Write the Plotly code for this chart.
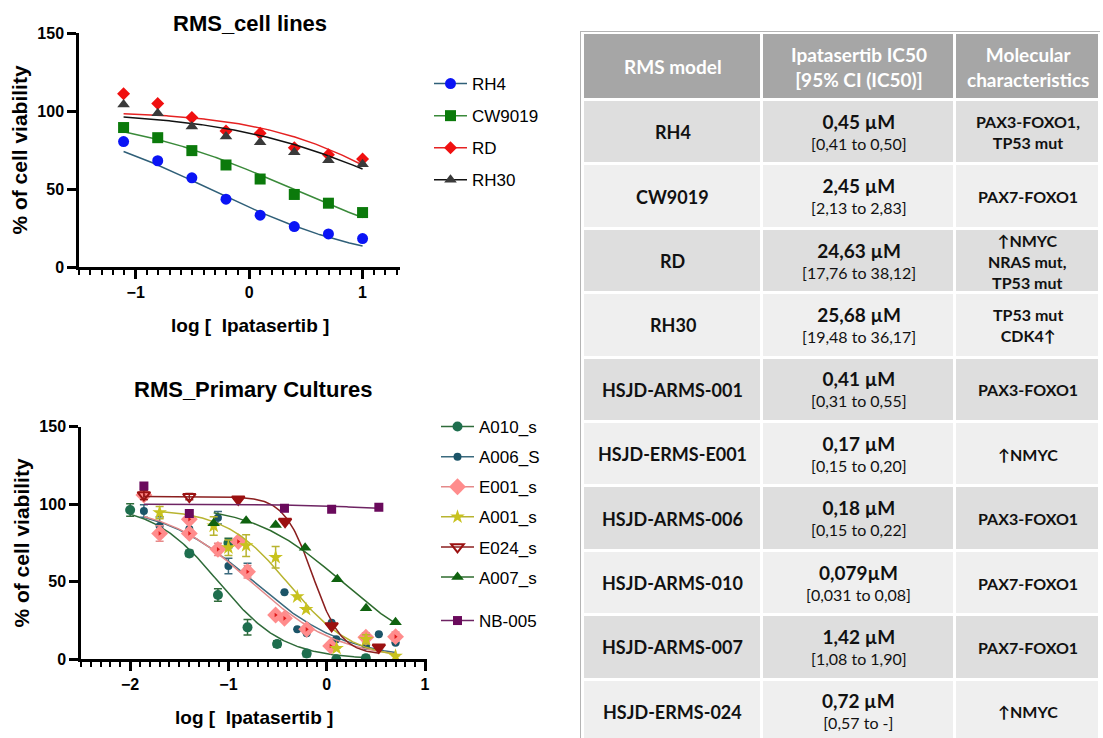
import numpy as np
import plotly.graph_objects as go

W, H = 1103, 738
FONT = "Liberation Sans"
TFONT = "Lato"

# ---------------- RMS cell lines ----------------
cell_log_conc = [-1.107, -0.806, -0.505, -0.204, 0.097, 0.398, 0.699, 1.0]
rh4_viab = [80.4, 68.1, 57.2, 43.5, 33.2, 25.9, 21.2, 18.2]
cw9019_viab = [89.4, 82.9, 74.6, 65.4, 56.4, 46.5, 40.9, 34.9]
rd_viab = [111.0, 104.8, 95.8, 87.2, 85.7, 76.5, 72.0, 69.2]
rh30_viab = [104.1, 98.6, 90.0, 83.6, 79.9, 73.5, 68.4, 65.8]

# ---------------- RMS primary cultures ----------------
a010_x = [-2.0, -1.398, -1.107, -1.0, -0.806, -0.505, -0.204, 0.097, 0.398]
a010_y = [96.3, 68.3, 41.5, 75.0, 20.6, 9.9, 3.7, 0.0, 0.6]
a010_err = [4, 2, 4, 3, 5, 2, 2, 1, 2]

a006_x = [-1.86, -1.70, -1.398, -1.107, -1.0, -0.806, -0.505, -0.43, -0.30, -0.204, 0.05, 0.097, 0.398, 0.53, 0.70]
a006_y = [95.6, 86.0, 84.0, 91.3, 60.2, 58.0, 28.0, 43.2, 19.3, 16.8, 23.6, 12.9, 8.6, 16.1, 10.7]
a006_err = [4, 6, 5, 4, 5, 4, 0, 0, 0, 0, 0, 0, 0, 0, 0]

e001_x = [-1.86, -1.70, -1.398, -1.398, -1.107, -0.90, -0.806, -0.52, -0.43, -0.204, 0.04, 0.398, 0.70]
e001_y = [106.0, 81.2, 81.2, 90.3, 70.9, 75.9, 56.5, 28.6, 26.4, 19.3, 8.6, 14.2, 14.6]
e001_err = [3, 5, 2, 2, 4, 2, 4, 0, 0, 0, 0, 3, 3]

a001_x = [-1.70, -1.15, -1.0, -0.82, -0.52, -0.30, -0.21, 0.10, 0.40, 0.70]
a001_y = [94.6, 86.0, 72.0, 73.3, 65.8, 40.4, 32.2, 7.1, 12.9, 2.1]
a001_err = [4, 6, 5, 7, 7, 0, 0, 0, 3, 0]

e024_x = [-1.86, -1.398, -0.90, -0.424, 0.05, 0.53]
e024_y = [106.0, 104.9, 103.2, 88.8, 21.5, 7.7]
e024_err = [3, 2, 0, 0, 0, 0]

a007_x = [-1.15, -0.82, -0.52, -0.22, 0.108, 0.40, 0.70]
a007_y = [87.7, 89.4, 86.6, 72.0, 51.6, 32.9, 23.9]

nb005_x = [-1.86, -1.398, -0.43, 0.05, 0.53]
nb005_y = [111.8, 94.1, 97.4, 96.7, 98.0]

# ---------------- IC50 table ----------------
models = ["RH4", "CW9019", "RD", "RH30", "HSJD-ARMS-001", "HSJD-ERMS-E001",
          "HSJD-ARMS-006", "HSJD-ARMS-010", "HSJD-ARMS-007", "HSJD-ERMS-024"]
ic50_um = [0.45, 2.45, 24.63, 25.68, 0.41, 0.17, 0.18, 0.079, 1.42, 0.72]
ic50_labels = ["0,45 µM", "2,45 µM", "24,63 µM", "25,68 µM", "0,41 µM", "0,17 µM",
               "0,18 µM", "0,079µM", "1,42 µM", "0,72 µM"]
ci_labels = ["[0,41 to 0,50]", "[2,13 to 2,83]", "[17,76 to 38,12]", "[19,48 to 36,17]",
             "[0,31 to 0,55]", "[0,15 to 0,20]", "[0,15 to 0,22]", "[0,031 to 0,08]",
             "[1,08 to 1,90]", "[0,57 to -]"]
molecular = [["PAX3-FOXO1,", "TP53 mut"], ["PAX7-FOXO1"], ["↑NMYC", "NRAS mut,", "TP53 mut"],
             ["TP53 mut", "CDK4↑"], ["PAX3-FOXO1"], ["↑NMYC"], ["PAX3-FOXO1"],
             ["PAX7-FOXO1"], ["PAX7-FOXO1"], ["↑NMYC"]]
headers = ["RMS model", "Ipatasertib IC50<br>[95% CI (IC50)]", "Molecular<br>characteristics"]

ic50_of = dict(zip(models, ic50_um))

# four-parameter logistic fits: top, bottom, hill slope, IC50 (µM, from the table)
fits = {
    "RH4": (100, 0, 0.60, ic50_of["RH4"]),
    "CW9019": (100, 0, 0.545, ic50_of["CW9019"]),
    "RD": (100, 0, 0.707, ic50_of["RD"]),
    "RH30": (100, 0, 0.556, ic50_of["RH30"]),
    "A010_s": (100, 0, 1.30, ic50_of["HSJD-ARMS-010"]),
    "A006_S": (100, 0, 0.93, ic50_of["HSJD-ARMS-006"]),
    "E001_s": (100, 0, 0.98, ic50_of["HSJD-ERMS-E001"]),
    "A001_s": (97, 0, 1.35, ic50_of["HSJD-ARMS-001"]),
    "E024_s": (105, 3, 3.0, ic50_of["HSJD-ERMS-024"]),
    "A007_s": (100, 0, 0.95, ic50_of["HSJD-ARMS-007"]),
    "NB-005": (100, 95, 1.0, 10 ** 0.5),
}


def fit_curve(name, xs):
    top, bottom, hill, ic50 = fits[name]
    x = np.linspace(min(xs), max(xs), 200)
    y = bottom + (top - bottom) / (1 + 10 ** ((x - np.log10(ic50)) * hill))
    return x, y


fig = go.Figure()

cell_series = [
    ("RH4", rh4_viab, "circle", "#0a14f5", "#2f5f78", 11),
    ("CW9019", cw9019_viab, "square", "#0b7a0b", "#3a8a3a", 11),
    ("RD", rd_viab, "diamond", "#f01010", "#e52222", 10),
    ("RH30", rh30_viab, "triangle-up", "#3a3a3a", "#111111", 11),
]
for name, ys, sym, mcol, lcol, size in cell_series:
    cx, cy = fit_curve(name, cell_log_conc)
    fig.add_trace(go.Scatter(x=cx, y=cy, mode="lines", line=dict(color=lcol, width=1.5),
                             xaxis="x", yaxis="y", showlegend=False, hoverinfo="skip"))
    fig.add_trace(go.Scatter(x=cell_log_conc, y=ys, mode="markers",
                             marker=dict(symbol=sym, color=mcol, size=size),
                             xaxis="x", yaxis="y", showlegend=False))
    fig.add_trace(go.Scatter(x=[None], y=[None], mode="lines+markers", name=name,
                             line=dict(color=lcol, width=1.5),
                             marker=dict(symbol=sym, color=mcol, size=size),
                             xaxis="x", yaxis="y", legend="legend", legendgroup=name))

primary_series = [
    ("A010_s", a010_x, a010_y, a010_err, "circle", "#1e6e4e", "#2f6b3a", 10),
    ("A006_S", a006_x, a006_y, a006_err, "circle", "#1b5468", "#3b6a7e", 8),
    ("E001_s", e001_x, e001_y, e001_err, "diamond", "#ff8c8c", "#e48a8a", 13),
    ("A001_s", a001_x, a001_y, a001_err, "star", "#c8c21e", "#b8b430", 11),
    ("E024_s", e024_x, e024_y, e024_err, "triangle-down", "#9b1111", "#8b1f1f", 11),
    ("A007_s", a007_x, a007_y, None, "triangle-up", "#0f620f", "#2e6b2e", 11),
]
for name, xs, ys, err, sym, mcol, lcol, size in primary_series:
    cx, cy = fit_curve(name, xs)
    fig.add_trace(go.Scatter(x=cx, y=cy, mode="lines", line=dict(color=lcol, width=1.5),
                             xaxis="x2", yaxis="y2", showlegend=False, hoverinfo="skip"))
    symbols = sym
    if name == "E024_s":
        symbols = ["triangle-down-open", "triangle-down-open"] + ["triangle-down"] * (len(xs) - 2)
    fig.add_trace(go.Scatter(
        x=xs, y=ys, mode="markers",
        marker=dict(symbol=symbols, color=mcol, size=size,
                    line=dict(color=mcol, width=2 if name == "E024_s" else 0)),
        error_y=dict(type="data", array=err, color=lcol, thickness=1.5, width=4,
                     visible=err is not None),
        xaxis="x2", yaxis="y2", showlegend=False))
    if name == "E001_s":
        fig.add_trace(go.Scatter(x=xs, y=ys, mode="markers",
                                 marker=dict(symbol="triangle-right", color="#e01818", size=4),
                                 xaxis="x2", yaxis="y2", showlegend=False, hoverinfo="skip"))
    fig.add_trace(go.Scatter(x=[None], y=[None], mode="lines+markers", name=name,
                             line=dict(color=lcol, width=1.5),
                             marker=dict(symbol="triangle-down-open" if name == "E024_s" else sym,
                                         color=mcol, size=size,
                                         line=dict(color=mcol, width=2 if name == "E024_s" else 0)),
                             xaxis="x2", yaxis="y2", legend="legend2", legendgroup=name))

cx, cy = fit_curve("NB-005", nb005_x)
fig.add_trace(go.Scatter(x=cx, y=cy, mode="lines", line=dict(color="#6e2463", width=1.5),
                         xaxis="x2", yaxis="y2", showlegend=False, hoverinfo="skip"))
fig.add_trace(go.Scatter(x=nb005_x, y=nb005_y, mode="markers",
                         marker=dict(symbol="square", color="#6a0a5c", size=9),
                         xaxis="x2", yaxis="y2", showlegend=False))
fig.add_trace(go.Scatter(x=[None], y=[None], mode="lines+markers", name="NB-005",
                         line=dict(color="#6e2463", width=1.5),
                         marker=dict(symbol="square", color="#6a0a5c", size=9),
                         xaxis="x2", yaxis="y2", legend="legend3"))

# ---------------- table drawn as a heatmap grid ----------------
col_widths = [179, 193, 145]
header_h, row_h = 67, 64.4
table_left, table_top = 583, 33
col_edges = list(np.cumsum([table_left] + col_widths))
row_edges = [table_top, table_top + header_h] + [table_top + header_h + row_h * (k + 1)
                                                 for k in range(len(models))]
shade = [[0] * 3] + [[1 if k % 2 == 0 else 2] * 3 for k in range(len(models))]
fig.add_trace(go.Heatmap(
    x=col_edges, y=row_edges, z=shade, xaxis="x3", yaxis="y3",
    colorscale=[[0, "#a6a6a6"], [0.5, "#dedede"], [1, "#efefef"]], zmin=0, zmax=2,
    showscale=False, xgap=3, ygap=3, hoverinfo="skip"))

col_centers = [(col_edges[i] + col_edges[i + 1]) / 2 for i in range(3)]
row_centers = [(row_edges[i] + row_edges[i + 1]) / 2 for i in range(len(row_edges) - 1)]

annotations = []
for ci_, text in enumerate(headers):
    annotations.append(dict(x=col_centers[ci_], y=row_centers[0], xref="x3", yref="y3",
                            text="<b>%s</b>" % text, showarrow=False,
                            xanchor="center", yanchor="middle",
                            font=dict(family=TFONT, size=19, color="white")))
for r, model in enumerate(models):
    yc = row_centers[r + 1]
    annotations.append(dict(x=col_centers[0], y=yc, xref="x3", yref="y3",
                            text="<b>%s</b>" % model, showarrow=False,
                            xanchor="center", yanchor="middle",
                            font=dict(family=TFONT, size=18, color="#111111")))
    annotations.append(dict(x=col_centers[1], y=yc - 1, xref="x3", yref="y3",
                            text="<b><span style='font-size:19px'>%s</span></b><br>%s"
                                 % (ic50_labels[r], ci_labels[r]),
                            showarrow=False, xanchor="center", yanchor="middle",
                            font=dict(family=TFONT, size=16, color="#111111")))
    annotations.append(dict(x=col_centers[2], y=yc, xref="x3", yref="y3",
                            text="<b>%s</b>" % "<br>".join(molecular[r]), showarrow=False,
                            xanchor="center", yanchor="middle",
                            font=dict(family=TFONT, size=16, color="#111111")))

# panel titles and x-axis titles
panel_text = [("<b>RMS_cell lines</b>", 250, 24, 22), ("<b>RMS_Primary Cultures</b>", 253, 389, 22),
              ("<b>log [  Ipatasertib ]</b>", 250, 325, 19),
              ("<b>log [  Ipatasertib ]</b>", 254, 717, 19)]
for text, px, py, fs in panel_text:
    annotations.append(dict(x=px / W, y=1 - py / H, xref="paper", yref="paper",
                            xanchor="center", yanchor="middle", text=text, showarrow=False,
                            font=dict(family=FONT, size=fs, color="black")))


def x_axis(domain, rng, anchor):
    return dict(domain=domain, range=rng, anchor=anchor, showline=True, linewidth=2.5,
                linecolor="black", ticks="outside", ticklen=9, tickwidth=2.5, tickcolor="black",
                dtick=1, tick0=0, showgrid=False, zeroline=False, automargin=False,
                minor=dict(dtick=0.1, tick0=0, ticks="outside", ticklen=5, tickwidth=2,
                           tickcolor="black", showgrid=False),
                tickfont=dict(family=FONT, size=16, color="black", weight="bold"))


def y_axis(domain, anchor):
    return dict(domain=domain, range=[0, 150], anchor=anchor, showline=True, linewidth=2.5,
                linecolor="black", ticks="outside", ticklen=9, tickwidth=2.5, tickcolor="black",
                dtick=50, showgrid=False, zeroline=False, automargin=False,
                tickfont=dict(family=FONT, size=16, color="black", weight="bold"),
                title=dict(text="<b>% of cell viability</b>", standoff=4,
                           font=dict(family=FONT, size=21, color="black")))


legend_common = dict(xanchor="left", yanchor="top", bgcolor="rgba(0,0,0,0)",
                     font=dict(family=FONT, size=17, color="black"),
                     traceorder="grouped", itemwidth=33)

fig.update_layout(
    width=W, height=H, margin=dict(l=0, r=0, t=0, b=0, pad=0, autoexpand=False),
    paper_bgcolor="white", plot_bgcolor="white", showlegend=True,
    xaxis=x_axis([79 / W, 400 / W], [-1.5, 1.33], "y"),
    yaxis=y_axis([1 - 267 / H, 1 - 33 / H], "x"),
    xaxis2=x_axis([81 / W, 427 / W], [-2.5, 1.02], "y2"),
    yaxis2=y_axis([1 - 659.3 / H, 1 - 426.7 / H], "x2"),
    xaxis3=dict(domain=[581 / W, 1100 / W], range=[581, 1100], anchor="y3", automargin=False,
                showline=True, linecolor="#b4b4b4", linewidth=1, side="top",
                showticklabels=False, ticks="", showgrid=False, zeroline=False),
    yaxis3=dict(domain=[0, 1 - 32 / H], range=[738, 32], anchor="x3", automargin=False,
                showline=True, linecolor="#b4b4b4", linewidth=1, showticklabels=False,
                ticks="", showgrid=False, zeroline=False),
    legend=dict(x=429 / W, y=1 - 66 / H, tracegroupgap=7, **legend_common),
    legend2=dict(x=436 / W, y=1 - 409 / H, tracegroupgap=5, **legend_common),
    legend3=dict(x=436 / W, y=1 - 603 / H, tracegroupgap=5, **legend_common),
    annotations=annotations,
)

fig.write_html("out.html")
